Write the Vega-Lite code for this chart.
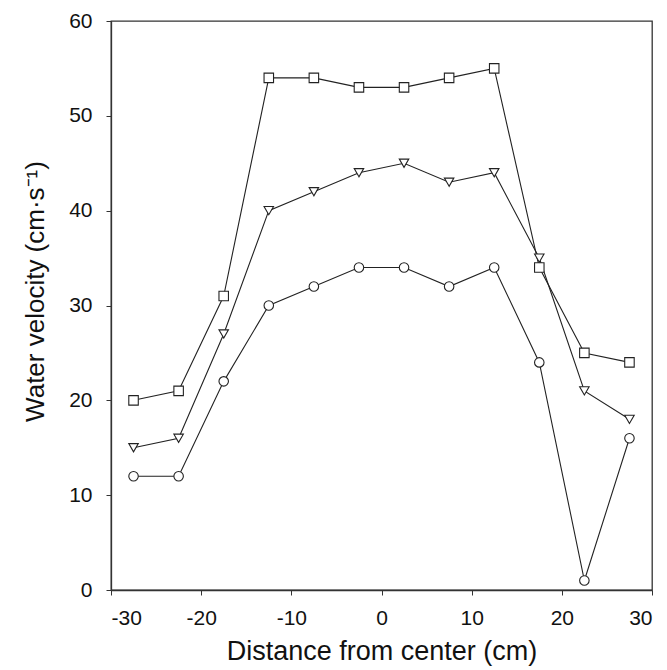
{
  "$schema": "https://vega.github.io/schema/vega-lite/v6.json",
  "width": 541,
  "height": 569,
  "autosize": {"type": "none"},
  "padding": {"left": 111, "top": 21, "right": 15, "bottom": 80},
  "background": "white",
  "config": {
    "view": {"stroke": "#333", "strokeWidth": 1.3},
    "axis": {
      "grid": false,
      "domainColor": "#333",
      "domainWidth": 1.3,
      "tickColor": "#333",
      "tickSize": 5,
      "labelFont": "Liberation Sans",
      "titleFont": "Liberation Sans",
      "labelFontSize": 21,
      "titleFontWeight": "normal",
      "labelColor": "#111",
      "titleColor": "#111",
      "labelExpr": "'' + datum.value"
    }
  },
  "data": {
    "values": [
      {"x": -27.5, "v": 20, "s": "sq"}, {"x": -22.5, "v": 21, "s": "sq"}, {"x": -17.5, "v": 31, "s": "sq"},
      {"x": -12.5, "v": 54, "s": "sq"}, {"x": -7.5, "v": 54, "s": "sq"}, {"x": -2.5, "v": 53, "s": "sq"},
      {"x": 2.5, "v": 53, "s": "sq"}, {"x": 7.5, "v": 54, "s": "sq"}, {"x": 12.5, "v": 55, "s": "sq"},
      {"x": 17.5, "v": 34, "s": "sq"}, {"x": 22.5, "v": 25, "s": "sq"}, {"x": 27.5, "v": 24, "s": "sq"},
      {"x": -27.5, "v": 15, "s": "tri"}, {"x": -22.5, "v": 16, "s": "tri"}, {"x": -17.5, "v": 27, "s": "tri"},
      {"x": -12.5, "v": 40, "s": "tri"}, {"x": -7.5, "v": 42, "s": "tri"}, {"x": -2.5, "v": 44, "s": "tri"},
      {"x": 2.5, "v": 45, "s": "tri"}, {"x": 7.5, "v": 43, "s": "tri"}, {"x": 12.5, "v": 44, "s": "tri"},
      {"x": 17.5, "v": 35, "s": "tri"}, {"x": 22.5, "v": 21, "s": "tri"}, {"x": 27.5, "v": 18, "s": "tri"},
      {"x": -27.5, "v": 12, "s": "circ"}, {"x": -22.5, "v": 12, "s": "circ"}, {"x": -17.5, "v": 22, "s": "circ"},
      {"x": -12.5, "v": 30, "s": "circ"}, {"x": -7.5, "v": 32, "s": "circ"}, {"x": -2.5, "v": 34, "s": "circ"},
      {"x": 2.5, "v": 34, "s": "circ"}, {"x": 7.5, "v": 32, "s": "circ"}, {"x": 12.5, "v": 34, "s": "circ"},
      {"x": 17.5, "v": 24, "s": "circ"}, {"x": 22.5, "v": 1, "s": "circ"}, {"x": 27.5, "v": 16, "s": "circ"}
    ]
  },
  "encoding": {
    "x": {
      "field": "x", "type": "quantitative",
      "scale": {"domain": [-30, 30], "nice": false},
      "axis": {"values": [-30, -20, -10, 0, 10, 20, 30], "title": "Distance from center (cm)", "titleFontSize": 27, "titlePadding": 10, "labelPadding": 12}
    },
    "y": {
      "field": "v", "type": "quantitative",
      "scale": {"domain": [0, 60], "nice": false},
      "axis": {"values": [0, 10, 20, 30, 40, 50, 60], "title": "Water velocity (cm·s⁻¹)", "titleFontSize": 26, "titleY": 270, "titlePadding": 20, "labelPadding": 14}
    }
  },
  "layer": [
    {
      "mark": {"type": "line", "color": "#222", "strokeWidth": 1.1},
      "encoding": {"detail": {"field": "s"}}
    },
    {
      "mark": {"type": "point", "filled": true, "fill": "white", "stroke": "#222", "strokeWidth": 1.1, "opacity": 1, "size": 90},
      "encoding": {
        "shape": {
          "field": "s", "type": "nominal",
          "scale": {"domain": ["sq", "tri", "circ"], "range": ["square", "triangle-down", "circle"]},
          "legend": null
        }
      }
    }
  ]
}
